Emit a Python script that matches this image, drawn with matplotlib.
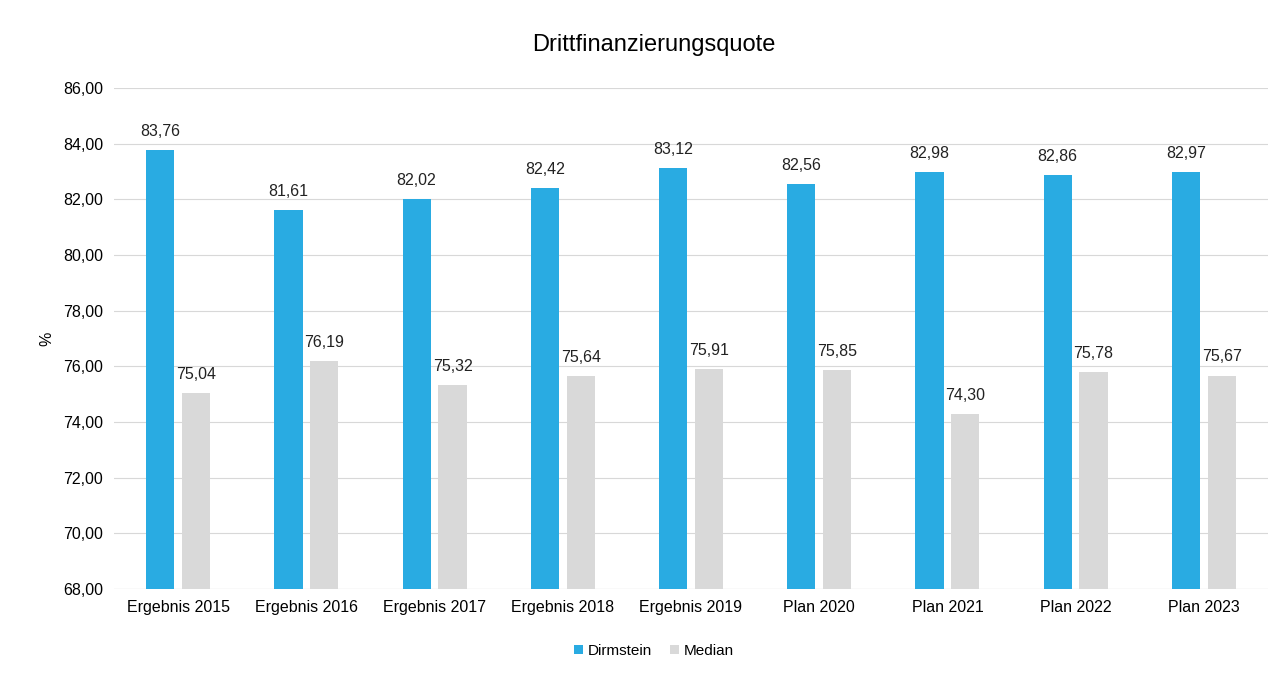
import numpy as np
import matplotlib.pyplot as plt

plt.rcParams['font.family'] = ['Liberation Sans', 'DejaVu Sans']

categories = ['Ergebnis 2015', 'Ergebnis 2016', 'Ergebnis 2017', 'Ergebnis 2018',
              'Ergebnis 2019', 'Plan 2020', 'Plan 2021', 'Plan 2022', 'Plan 2023']
dirmstein = [83.76, 81.61, 82.02, 82.42, 83.12, 82.56, 82.98, 82.86, 82.97]
median = [75.04, 76.19, 75.32, 75.64, 75.91, 75.85, 74.30, 75.78, 75.67]

BLUE = '#29ABE2'
GRAY = '#D9D9D9'


def fmt(v):
    return f'{v:.2f}'.replace('.', ',')


fig = plt.figure(figsize=(12.87, 6.78), dpi=100)
ax = fig.add_axes([0.0886, 0.1313, 0.8966, 0.7389])

x = np.arange(len(categories))
w = 0.22
off = 0.14
b1 = ax.bar(x - off, [v - 68 for v in dirmstein], w, bottom=68, color=BLUE, label='Dirmstein', zorder=3)
b2 = ax.bar(x + off, [v - 68 for v in median], w, bottom=68, color=GRAY, label='Median', zorder=3)

for bars, vals in ((b1, dirmstein), (b2, median)):
    for rect, v in zip(bars, vals):
        ax.annotate(fmt(v), (rect.get_x() + rect.get_width() / 2, v),
                    xytext=(0, 8), textcoords='offset points',
                    ha='center', va='bottom', fontsize=11.5, color='#222222')

ax.set_ylim(68, 86)
ax.set_xlim(-0.5, len(categories) - 0.5)
yt = np.arange(68, 87, 2)
ax.set_yticks(yt)
ax.set_yticklabels([fmt(v) for v in yt], fontsize=11.5)
ax.set_xticks(x)
ax.set_xticklabels(categories, fontsize=11.5)
ax.tick_params(length=0, pad=8)
ax.grid(axis='y', color='#D8D8D8', linewidth=0.8, zorder=0)
for s in ax.spines.values():
    s.set_visible(False)
ax.axhline(68, color='#CFCFCF', linewidth=0.8, zorder=2)

ax.set_ylabel('%', fontsize=11.5, labelpad=6)
fig.text(0.508, 0.933, 'Drittfinanzierungsquote', ha='center', va='center', fontsize=17)

fig.legend(handles=[b1, b2], loc='center', bbox_to_anchor=(0.508, 0.04), ncol=2,
           frameon=False, fontsize=11, handlelength=0.6, handleheight=0.6,
           handletextpad=0.3, columnspacing=1.2)

fig.savefig('out.png', dpi=100, facecolor='white')
